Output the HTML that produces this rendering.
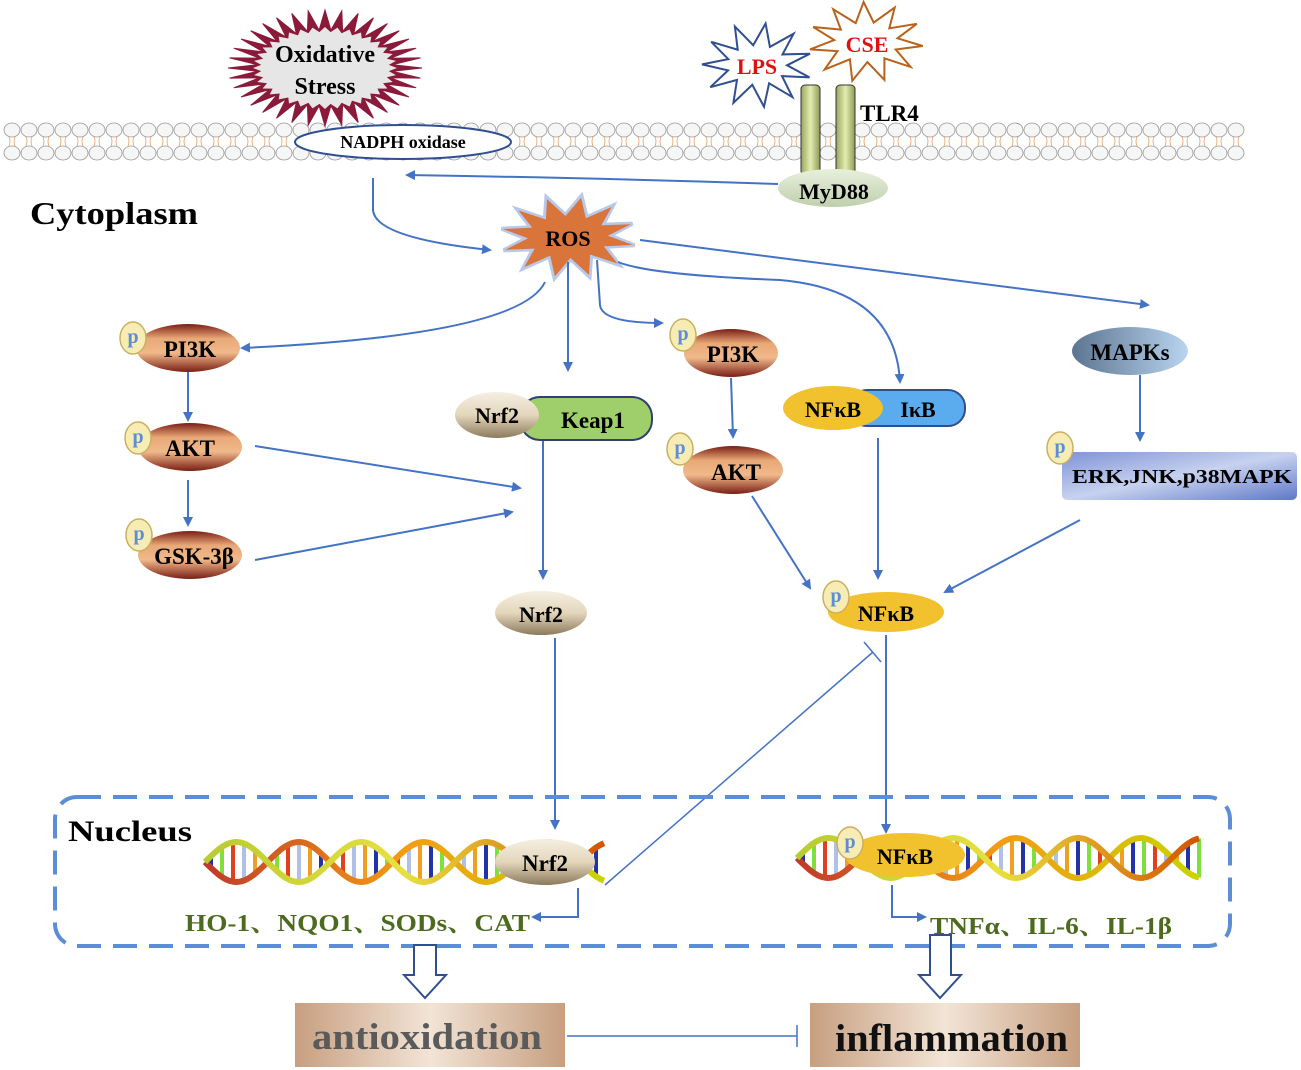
<!DOCTYPE html>
<html><head><meta charset="utf-8"><style>
html,body{margin:0;padding:0;background:#fff;width:1301px;height:1070px;overflow:hidden}
svg{display:block}
text{font-family:"Liberation Serif","Noto Serif CJK SC",serif;font-weight:bold}
</style></head><body>
<svg id="s" width="1301" height="1070" viewBox="0 0 1301 1070" xmlns="http://www.w3.org/2000/svg">
<defs>
<marker id="ar" markerWidth="10" markerHeight="10" refX="8" refY="5" orient="auto" markerUnits="userSpaceOnUse"><path d="M0,0 L10,5 L0,10 z" fill="#4472c4"/></marker>
<linearGradient id="br" x1="0" y1="0" x2="0" y2="1"><stop offset="0" stop-color="#7a1e14"/><stop offset="0.3" stop-color="#e9a877"/><stop offset="0.6" stop-color="#f0b98a"/><stop offset="1" stop-color="#7a1e14"/></linearGradient>
<linearGradient id="tan" x1="0" y1="0" x2="0" y2="1"><stop offset="0" stop-color="#f5efe2"/><stop offset="0.5" stop-color="#e3d6bb"/><stop offset="1" stop-color="#8c7a5c"/></linearGradient>
<linearGradient id="mp" x1="0" y1="0" x2="1" y2="0"><stop offset="0" stop-color="#5c7591"/><stop offset="1" stop-color="#b9d4f0"/></linearGradient>
<linearGradient id="erk" x1="0" y1="0" x2="1" y2="1"><stop offset="0" stop-color="#7f93d6"/><stop offset="0.5" stop-color="#c7d2ef"/><stop offset="1" stop-color="#5f78c8"/></linearGradient>
<linearGradient id="cyl" x1="0" y1="0" x2="1" y2="0"><stop offset="0" stop-color="#9aa560"/><stop offset="0.5" stop-color="#e3edb0"/><stop offset="1" stop-color="#8f9a55"/></linearGradient>
<linearGradient id="myd" x1="0" y1="0" x2="0" y2="1"><stop offset="0" stop-color="#e8f0dc"/><stop offset="1" stop-color="#bfcfae"/></linearGradient>
<linearGradient id="box" x1="0" y1="0" x2="1" y2="0"><stop offset="0" stop-color="#c79f80"/><stop offset="0.5" stop-color="#f2e4d6"/><stop offset="1" stop-color="#c79f80"/></linearGradient>
<linearGradient id="dna" x1="0" y1="0" x2="1" y2="0"><stop offset="0" stop-color="#c0392b"/><stop offset="0.5" stop-color="#f39c12"/><stop offset="1" stop-color="#c8d400"/></linearGradient>
<linearGradient id="dna2" x1="0" y1="0" x2="1" y2="0"><stop offset="0" stop-color="#b8cc30"/><stop offset="0.5" stop-color="#e8e040"/><stop offset="1" stop-color="#d35400"/></linearGradient>
</defs>
<g id="membrane"></g>
<g id="stars"></g>
<ellipse cx="403" cy="142" rx="108" ry="17" fill="#fff" stroke="#2f4f8f" stroke-width="2"/>
<text x="403" y="148" font-size="18" text-anchor="middle">NADPH oxidase</text>
<text x="325" y="62" font-size="24" text-anchor="middle">Oxidative</text>
<text x="325" y="94" font-size="24" text-anchor="middle">Stress</text>
<text x="757" y="74" font-size="22" text-anchor="middle" fill="#e01010">LPS</text>
<text x="867" y="52" font-size="22" text-anchor="middle" fill="#e01010">CSE</text>
<rect x="801" y="85" width="19" height="90" rx="4" fill="url(#cyl)" stroke="#333" stroke-width="1"/>
<rect x="836" y="85" width="19" height="90" rx="4" fill="url(#cyl)" stroke="#333" stroke-width="1"/>
<text x="860" y="121" font-size="23">TLR4</text>
<ellipse cx="833" cy="188" rx="55" ry="19" fill="url(#myd)"/>
<text x="834" y="199" font-size="22" text-anchor="middle">MyD88</text>
<text x="30" y="224" font-size="32" textLength="168" lengthAdjust="spacingAndGlyphs">Cytoplasm</text>
<text x="568" y="246" font-size="22" text-anchor="middle">ROS</text>

<g fill="none" stroke="#4472c4" stroke-width="2">
<path d="M778,184 Q600,178 407,175" marker-end="url(#ar)"/>
<path d="M373,178 L373,210 Q375,238 490,250" marker-end="url(#ar)"/>
<path d="M545,282 Q520,335 242,348" marker-end="url(#ar)"/>
<path d="M568,262 L568,370" marker-end="url(#ar)"/>
<path d="M597,260 L600,305 Q602,323 662,323" marker-end="url(#ar)"/>
<path d="M618,262 Q650,275 780,280 Q895,290 900,382" marker-end="url(#ar)"/>
<path d="M640,240 L1148,305" marker-end="url(#ar)"/>
<path d="M188,372 L188,420" marker-end="url(#ar)"/>
<path d="M188,480 L188,525" marker-end="url(#ar)"/>
<path d="M255,446 L520,488" marker-end="url(#ar)"/>
<path d="M255,560 L512,512" marker-end="url(#ar)"/>
<path d="M543,440 L543,578" marker-end="url(#ar)"/>
<path d="M555,638 L555,828" marker-end="url(#ar)"/>
<path d="M731,378 L733,437" marker-end="url(#ar)"/>
<path d="M752,496 L810,588" marker-end="url(#ar)"/>
<path d="M878,438 L878,578" marker-end="url(#ar)"/>
<path d="M1140,375 L1140,440" marker-end="url(#ar)"/>
<path d="M1080,520 L945,592" marker-end="url(#ar)"/>
<path d="M886,635 L886,832" marker-end="url(#ar)"/>
<path d="M578,888 L578,917 L533,917" marker-end="url(#ar)"/>
<path d="M892,885 L892,917 L925,917" marker-end="url(#ar)"/>
<path d="M605,885 L873,652" stroke-width="1.5"/>
<path d="M864,642 L881,662" stroke-width="1.5"/>
<path d="M567,1036 L797,1036" stroke-width="1.5"/>
<path d="M797,1025 L797,1047" stroke-width="1.5"/>
</g>

<g id="nodes">
<ellipse cx="188" cy="348" rx="52" ry="24" fill="url(#br)"/><text x="190" y="357" font-size="23" text-anchor="middle">PI3K</text>
<ellipse cx="190" cy="447" rx="52" ry="24" fill="url(#br)"/><text x="190" y="456" font-size="23" text-anchor="middle">AKT</text>
<ellipse cx="190" cy="555" rx="52" ry="24" fill="url(#br)"/><text x="194" y="564" font-size="23" text-anchor="middle">GSK-3β</text>
<ellipse cx="731" cy="353" rx="47" ry="24" fill="url(#br)"/><text x="733" y="362" font-size="23" text-anchor="middle">PI3K</text>
<ellipse cx="733" cy="470" rx="50" ry="24" fill="url(#br)"/><text x="736" y="480" font-size="23" text-anchor="middle">AKT</text>
<rect x="520" y="397" width="132" height="43" rx="20" fill="#9fcf6a" stroke="#2f3f6f" stroke-width="2"/>
<ellipse cx="497" cy="415" rx="42" ry="23" fill="url(#tan)"/>
<text x="497" y="423" font-size="22" text-anchor="middle">Nrf2</text>
<text x="593" y="428" font-size="23" text-anchor="middle">Keap1</text>
<rect x="850" y="390" width="115" height="36" rx="17" fill="#5aacef" stroke="#2f4f8f" stroke-width="2"/>
<ellipse cx="833" cy="408" rx="50" ry="22" fill="#f2c12e"/>
<text x="833" y="417" font-size="22" text-anchor="middle">NFκB</text>
<text x="918" y="417" font-size="22" text-anchor="middle">IκB</text>
<ellipse cx="1130" cy="351" rx="58" ry="24" fill="url(#mp)"/><text x="1130" y="360" font-size="23" text-anchor="middle">MAPKs</text>
<rect x="1062" y="452" width="235" height="48" rx="5" fill="url(#erk)"/>
<text x="1182" y="483" font-size="20" text-anchor="middle" textLength="220" lengthAdjust="spacingAndGlyphs">ERK,JNK,p38MAPK</text>
<ellipse cx="541" cy="613" rx="46" ry="22" fill="url(#tan)"/><text x="541" y="622" font-size="22" text-anchor="middle">Nrf2</text>
<ellipse cx="886" cy="612" rx="58" ry="20" fill="#f2c12e"/><text x="886" y="621" font-size="22" text-anchor="middle">NFκB</text>
</g>

<rect x="55" y="797" width="1175" height="149" rx="22" fill="none" stroke="#5b8ed6" stroke-width="4" stroke-dasharray="24,12"/>
<text x="68" y="841" font-size="30" textLength="124" lengthAdjust="spacingAndGlyphs">Nucleus</text>
<g id="dnaG"></g>
<ellipse cx="545" cy="862" rx="50" ry="23" fill="url(#tan)"/><text x="545" y="871" font-size="23" text-anchor="middle">Nrf2</text>
<ellipse cx="905" cy="855" rx="60" ry="22" fill="#f2c12e"/><text x="905" y="864" font-size="22" text-anchor="middle">NFκB</text>
<text x="185" y="931" font-size="24" fill="#4d6b1f" textLength="345" lengthAdjust="spacingAndGlyphs">HO-1、NQO1、SODs、CAT</text>
<text x="930" y="934" font-size="24" fill="#4d6b1f" textLength="242" lengthAdjust="spacingAndGlyphs">TNFα、IL-6、IL-1β</text>
<g fill="#fff" stroke="#2f4f8f" stroke-width="2">
<path d="M414,945 L436,945 L436,975 L446,975 L425,998 L404,975 L414,975 z"/>
<path d="M930,935 L951,935 L951,975 L961,975 L940,998 L919,975 L930,975 z"/>
</g>
<rect x="295" y="1003" width="270" height="64" fill="url(#box)"/>
<text x="312" y="1049" font-size="37" fill="#5a5a5a" textLength="230" lengthAdjust="spacingAndGlyphs">antioxidation</text>
<rect x="810" y="1003" width="270" height="64" fill="url(#box)"/>
<text x="835" y="1051" font-size="39" fill="#111" textLength="233" lengthAdjust="spacingAndGlyphs">inflammation</text>
<g id="ps"></g>
</svg>
<script>
var NS="http://www.w3.org/2000/svg";
function el(t,a,p){var e=document.createElementNS(NS,t);for(var k in a)e.setAttribute(k,a[k]);(p||document.getElementById('s')).appendChild(e);return e;}
var m=document.getElementById('membrane');
for(var x=12;x<1245;x+=17){
 el('ellipse',{cx:x,cy:130,rx:8,ry:7,fill:'#f6f6f6',stroke:'#999','stroke-width':0.8},m);
 el('ellipse',{cx:x,cy:153,rx:8,ry:7,fill:'#f6f6f6',stroke:'#999','stroke-width':0.8},m);
 el('path',{d:'M'+(x-3)+',137 q2,4 0,9 M'+(x+3)+',137 q-2,4 0,9',stroke:'#e8a060',fill:'none','stroke-width':0.8},m);
}
function star(cx,cy,rx,ry,irx,iry,n,fill,stroke,sw,rot){
 var p=[];for(var i=0;i<2*n;i++){var a=Math.PI*i/n+(rot||0);var o=i%2==0;p.push((cx+(o?rx:irx)*Math.cos(a)).toFixed(1)+','+(cy+(o?ry:iry)*Math.sin(a)).toFixed(1));}
 el('polygon',{points:p.join(' '),fill:fill,stroke:stroke,'stroke-width':sw,'stroke-linejoin':'miter'},document.getElementById('stars'));
}
star(325,68,97,58,68,38,36,'#8b1a3a','#8b1a3a',1);
star(325,68,72,41,64,36,36,'#e6e6e6','none',0);
star(757,65,55,42,30,20,11,'#fff','#2f4f8f',2,0.3);
star(866,42,57,40,32,20,11,'#fff','#b8621c',2,0.1);
star(568,237,68,42,42,22,12,'#b8c8e8','#b8c8e8',4,0.2);
star(568,237,66,40,40,21,12,'#d9743a','none',0,0.2);
var g=document.getElementById('dnaG');
function dna(x0,x1,yc,amp,per){
 var d1='',d2='';
 for(var x=x0;x<=x1;x+=3){var t=(x-x0)/per*2*Math.PI;d1+=(x==x0?'M':'L')+x+','+(yc+amp*Math.sin(t)).toFixed(1);d2+=(x==x0?'M':'L')+x+','+(yc-amp*Math.sin(t)).toFixed(1);}
 var cols=['#2233aa','#7ee03a','#e04020','#b0c0e8','#f0a020'];
 for(var x=x0+6,i=0;x<x1;x+=11,i++){var t=(x-x0)/per*2*Math.PI;var a=amp*Math.sin(t);el('line',{x1:x,y1:yc-a,x2:x,y2:yc+a,stroke:cols[i%5],'stroke-width':4},g);}
 el('path',{d:d1,fill:'none',stroke:'url(#dna)','stroke-width':6},g);
 el('path',{d:d2,fill:'none',stroke:'url(#dna2)','stroke-width':6},g);
}
dna(205,605,862,20,125);
dna(797,1200,858,20,125);
var ps=[[133,338],[138,438],[139,535],[683,335],[680,449],[1060,448],[836,597],[850,843]];
var pg=document.getElementById('ps');
ps.forEach(function(q){el('ellipse',{cx:q[0],cy:q[1],rx:13,ry:16,fill:'#f7edb4',stroke:'#c9b060','stroke-width':1.5},pg);
 var t=el('text',{x:q[0],y:q[1]+5,'font-size':20,'text-anchor':'middle',fill:'#5b8ed6','font-weight':'normal'},pg);t.textContent='p';});
</script>
</body></html>
